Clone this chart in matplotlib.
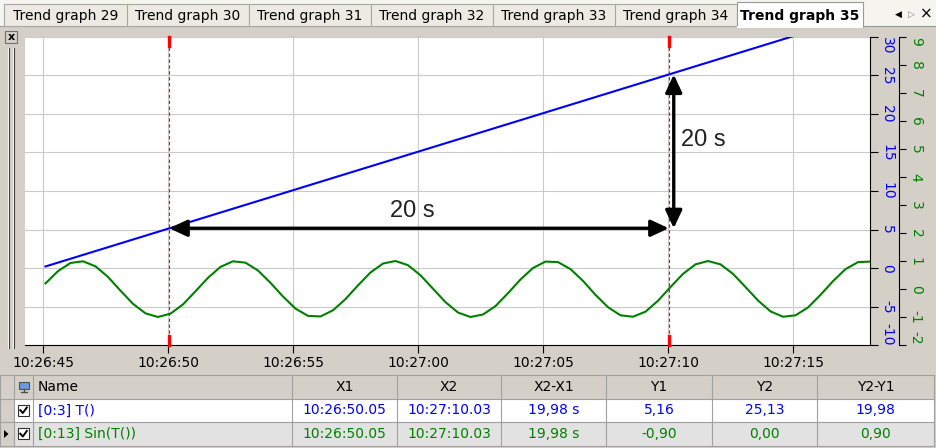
import matplotlib
matplotlib.use('Agg')
import matplotlib.pyplot as plt
from matplotlib.patches import Rectangle, Polygon
import matplotlib.transforms as mtransforms

W, H = 936, 448

# trend samples, one every 0.5 s from 10:26:45.10
sample_start = '10:26:45.10'
sample_step = 0.5
t_values = [0.2, 0.7, 1.2, 1.7, 2.2, 2.7, 3.2, 3.7, 4.2, 4.7, 5.2, 5.7, 6.2, 6.7,
            7.2, 7.7, 8.2, 8.7, 9.2, 9.7, 10.2, 10.7, 11.2, 11.7, 12.2, 12.7, 13.2,
            13.7, 14.2, 14.7, 15.2, 15.7, 16.2, 16.7, 17.2, 17.7, 18.2, 18.7, 19.2,
            19.7, 20.2, 20.7, 21.2, 21.7, 22.2, 22.7, 23.2, 23.7, 24.2, 24.7, 25.2,
            25.7, 26.2, 26.7, 27.2, 27.7, 28.2, 28.7, 29.2, 29.7, 30.2, 30.7, 31.2,
            31.7, 32.2, 32.7, 33.2]
sin_values = [0.20, 0.64, 0.93, 0.99, 0.81, 0.43, -0.06, -0.53, -0.87, -1.00, -0.88,
              -0.55, -0.08, 0.40, 0.79, 0.99, 0.94, 0.66, 0.22, -0.27, -0.70, -0.96,
              -0.98, -0.76, -0.36, 0.13, 0.59, 0.91, 1.00, 0.85, 0.49, 0.01, -0.47,
              -0.84, -1.00, -0.91, -0.61, -0.15, 0.34, 0.75, 0.98, 0.96, 0.71, 0.29,
              -0.21, -0.65, -0.94, -0.99, -0.81, -0.42, 0.07, 0.54, 0.88, 1.00, 0.88,
              0.54, 0.07, -0.41, -0.80, -0.99, -0.94, -0.66, -0.21, 0.28, 0.71, 0.96,
              0.98]

view_start, view_end = '10:26:44.28', '10:27:18.08'
time_ticks = ['10:26:45', '10:26:50', '10:26:55', '10:27:00', '10:27:05',
              '10:27:10', '10:27:15']
t_range = (-10, 30)
t_ticks = [-10, -5, 0, 5, 10, 15, 20, 25, 30]
sin_range = (-2, 9)
sin_ticks = [-2, -1, 0, 1, 2, 3, 4, 5, 6, 7, 8, 9]

cursor_x = ['10:26:50.05', '10:27:10.03']
cursor_y = [5.16, 25.13]
delta_label = '20 s'

tab_names = ['Trend graph 29', 'Trend graph 30', 'Trend graph 31', 'Trend graph 32',
             'Trend graph 33', 'Trend graph 34', 'Trend graph 35']
active_tab = 'Trend graph 35'

columns = ['Name', 'X1', 'X2', 'X2-X1', 'Y1', 'Y2', 'Y2-Y1']
names = ['[0:3] T()', '[0:13] Sin(T())']
x1_vals = ['10:26:50.05', '10:26:50.05']
x2_vals = ['10:27:10.03', '10:27:10.03']
dx_vals = ['19,98 s', '19,98 s']
y1_vals = ['5,16', '-0,90']
y2_vals = ['25,13', '0,00']
dy_vals = ['19,98', '0,90']

BLUE = '#0000FF'
GREEN = '#008000'
GRAY = '#D4D0C8'


def secs(s):
    h, m, rest = s.split(':')
    return int(h) * 3600 + int(m) * 60 + float(rest)


times = [secs(sample_start) + sample_step * i for i in range(len(t_values))]

plt.rcParams['font.family'] = 'DejaVu Sans'
plt.rcParams['axes.unicode_minus'] = False
fig = plt.figure(figsize=(W / 100, H / 100), dpi=100)
fig.patch.set_facecolor(GRAY)

# window chrome drawn in pixel coordinates
ui = fig.add_axes([0, 0, 1, 1])
ui.set_xlim(0, W)
ui.set_ylim(H, 0)
ui.axis('off')

ui.add_patch(Rectangle((0, 0), W, 27, fc='#F5F4EF', ec='none'))
ui.plot([0, W], [26.5, 26.5], color='#919B9C', lw=0.8)
tab_edges = [4, 127, 249, 371, 493, 615, 737, 863]
for i, name in enumerate(tab_names):
    x0, x1 = tab_edges[i], tab_edges[i + 1]
    if name == active_tab:
        ui.add_patch(Rectangle((x0, 2), x1 - x0, 25, fc='white', ec='#919B9C', lw=0.8, zorder=3))
        ui.plot([x0 + 0.6, x1 - 0.6], [26.6, 26.6], color='white', lw=1.5, zorder=3.5)
        weight = 'bold'
    else:
        ui.add_patch(Rectangle((x0, 4), x1 - x0, 22.5, fc='#ECEAE2', ec='#A8A8A8', lw=0.8, zorder=2))
        weight = 'normal'
    ui.text((x0 + x1) / 2, 16, name, ha='center', va='center', fontsize=10,
            fontweight=weight, color='black', zorder=4)
ui.text(898, 14, '\u25C0', ha='center', va='center', fontsize=6.5)
ui.text(911, 14, '\u25B7', ha='center', va='center', fontsize=6.5, color='#808080')
ui.text(926, 14, '\u00D7', ha='center', va='center', fontsize=11)

# close button and splitter on the left
ui.add_patch(Rectangle((5, 31), 12, 12, fc=GRAY, ec='#707070', lw=0.8))
ui.text(11, 36.8, 'x', ha='center', va='center', fontsize=8, fontweight='bold')
for x, c in [(7.5, 'white'), (9, '#404040'), (12.5, 'white'), (14, '#404040')]:
    ui.plot([x, x], [48, 348], color=c, lw=0.8)

# cursor table
col_edges = [0, 14, 33, 292, 397, 501, 606, 712, 817, 934]
row_edges = [375, 399, 422, 446]
ui.add_patch(Rectangle((0, row_edges[0]), 934, row_edges[1] - row_edges[0], fc=GRAY, ec='none'))
ui.add_patch(Rectangle((14, row_edges[1]), 920, row_edges[2] - row_edges[1], fc='white', ec='none'))
ui.add_patch(Rectangle((14, row_edges[2]), 920, row_edges[3] - row_edges[2], fc='#E2E2E2', ec='none'))
for y in row_edges:
    ui.plot([0, 934], [y, y], color='#A0A0A0', lw=0.8)
for x in col_edges:
    ui.plot([x, x], [row_edges[0], row_edges[-1]], color='#A0A0A0', lw=0.8)

hy = (row_edges[0] + row_edges[1]) / 2
ui.text(38, hy, columns[0], ha='left', va='center', fontsize=10)
for j, col in enumerate(columns[1:]):
    ui.text((col_edges[j + 3] + col_edges[j + 4]) / 2, hy, col, ha='center', va='center', fontsize=10)
# monitor icon in header
ui.add_patch(Rectangle((18.5, 382), 10, 7.5, fc='#6A9BE0', ec='#505050', lw=0.8))
ui.plot([23.5, 23.5], [389.5, 392], color='#505050', lw=1)
ui.plot([20.5, 26.5], [392, 392], color='#505050', lw=1)

rows = list(zip(names, x1_vals, x2_vals, dx_vals, y1_vals, y2_vals, dy_vals))
for r, (vals, color) in enumerate(zip(rows, [BLUE, GREEN])):
    cy = (row_edges[r + 1] + row_edges[r + 2]) / 2
    ui.text(38, cy, vals[0], ha='left', va='center', fontsize=10, color=color)
    for j, v in enumerate(vals[1:]):
        ui.text((col_edges[j + 3] + col_edges[j + 4]) / 2, cy, v, ha='center',
                va='center', fontsize=10, color=color)
    ui.add_patch(Rectangle((18, cy - 5.5), 11, 11, fc='white', ec='#303030', lw=0.8))
    ui.plot([20.3, 22.8, 26.8], [cy - 0.3, cy + 2.5, cy - 3], color='black', lw=1.4)
ry = (row_edges[2] + row_edges[3]) / 2
ui.add_patch(Polygon([(4, ry - 4), (8.5, ry), (4, ry + 4)], closed=True, fc='black', ec='none'))

# trend plot
ax = fig.add_axes([25 / W, (H - 345) / H, 845 / W, 308 / H])
ax.set_facecolor('white')
ax.plot(times, t_values, color=BLUE, lw=1.5)
ax.set_xlim(secs(view_start), secs(view_end))
ax.set_ylim(*t_range)
ax.set_xticks([secs(t) for t in time_ticks])
ax.set_xticklabels(time_ticks)
ax.set_yticks(t_ticks)
ax.grid(True, color='#CACACA', lw=0.8)
ax.set_axisbelow(True)

ax2 = ax.twinx()
ax2.plot(times, sin_values, color=GREEN, lw=1.5)
ax2.set_ylim(*sin_range)
ax2.set_yticks(sin_ticks)

# twinx moves the first axis' ticks to the left, so put them back
ax.yaxis.tick_right()
for s in ['left', 'top']:
    ax.spines[s].set_visible(False)
for s in ['bottom', 'right']:
    ax.spines[s].set_linewidth(0.8)
ax.tick_params(axis='x', length=6, width=0.8, pad=2, labelsize=10)
ax.tick_params(axis='y', length=5.5, width=0.8, pad=2, labelsize=10,
               labelcolor=BLUE, labelrotation=-90)

for s in ['left', 'top', 'bottom']:
    ax2.spines[s].set_visible(False)
ax2.spines['right'].set_position(('outward', 29 * 0.72))
ax2.spines['right'].set_linewidth(0.8)
ax2.tick_params(axis='y', length=5, width=0.8, pad=2, labelsize=10,
                labelcolor=GREEN, labelrotation=-90)

for a in (ax, ax2):
    labels = [t.label2 for t in a.yaxis.get_major_ticks()]
    for lab in labels:
        lab.set_va('center')
    labels[0].set_va('bottom')
    labels[-1].set_va('top')

# cursors
xt = ax2.get_xaxis_transform()
for c in cursor_x:
    xc = secs(c)
    ax2.axvline(xc, color='red', lw=0.8, ls=(0, (3, 2.3)))
    ax2.plot([xc, xc], [1 - 9 / 308, 1], color='red', lw=2.4, transform=xt, clip_on=False)
    ax2.plot([xc, xc], [0, 9 / 308], color='red', lw=2.4, transform=xt, clip_on=False)

# delta arrows, in T() units
x1c, x2c = secs(cursor_x[0]), secs(cursor_x[1])
y1c, y2c = cursor_y
aprops = dict(arrowstyle='<|-|>,head_length=0.6,head_width=0.28', mutation_scale=18,
              lw=2.4, color='black', shrinkA=0, shrinkB=0)
ax2.annotate('', xy=(x2c, y1c), xytext=(x1c, y1c), xycoords=ax.transData,
             textcoords=ax.transData, arrowprops=aprops)
shifted = ax.transData + mtransforms.ScaledTranslation(5 / 100, 0, fig.dpi_scale_trans)
ax2.annotate('', xy=(x2c, y2c), xytext=(x2c, y1c), xycoords=shifted,
             textcoords=shifted, arrowprops=aprops)
ax2.annotate(delta_label, xy=((x1c + x2c) / 2, y1c), xycoords=ax.transData,
             xytext=(-7, 6), textcoords='offset pixels', ha='center', va='bottom',
             fontsize=17, family='Liberation Sans', color='#222222')
ax2.annotate(delta_label, xy=(x2c, (y1c + y2c) / 2), xycoords=ax.transData,
             xytext=(12, 11), textcoords='offset pixels', ha='left', va='center',
             fontsize=17, family='Liberation Sans', color='#222222')

fig.savefig('out.png', dpi=100, facecolor=fig.get_facecolor())
